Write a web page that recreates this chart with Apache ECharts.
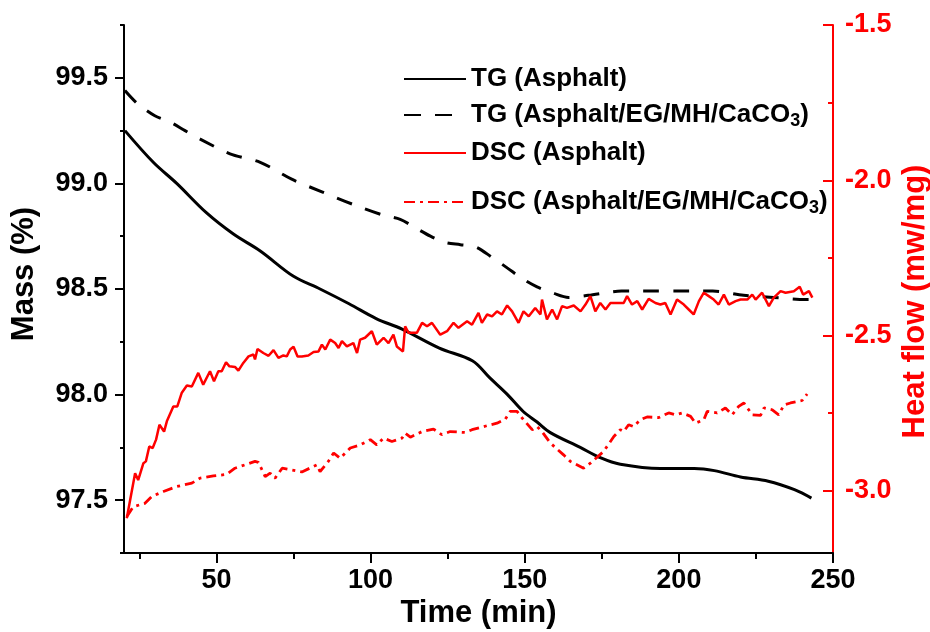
<!DOCTYPE html>
<html>
<head>
<meta charset="utf-8">
<script src="https://cdn.jsdelivr.net/npm/echarts@6/dist/echarts.min.js"></script>
<style>
  html, body { margin: 0; padding: 0; background: #fff; }
  #chart { width: 930px; height: 632px; }
</style>
</head>
<body>
<div id="chart"></div>
<script>
// Thermal analysis: TG mass loss (left axis) and DSC heat flow (right axis) over time
const seriesNames = [
  'TG (Asphalt)',
  'TG (Asphalt/EG/MH/CaCO3)',
  'DSC (Asphalt)',
  'DSC (Asphalt/EG/MH/CaCO3)'
];

// Tick labels
const timeTicks = [50, 100, 150, 200, 250];
const timeMinorTicks = [25, 75, 125, 175, 225];
const massTicks = [97.5, 98.0, 98.5, 99.0, 99.5];
const massMinorTicks = [97.25, 97.75, 98.25, 98.75, 99.25, 99.75];
const heatTicks = [-3.0, -2.5, -2.0, -1.5];
const heatMinorTicks = [-2.75, -2.25, -1.75];

// TG, asphalt
const tgTime = [20.3, 29.5, 37.1, 46.8, 55.5, 64.2, 75.0, 83.6, 93.0, 101.8, 110.2, 122.3, 133.0, 138.6, 144.4, 149.5, 154.0, 158.3, 168.0, 174.7, 181.0, 194.0, 205.0, 211.5, 220.0, 229.0, 237.5, 243.0];
const tgMass = [99.25, 99.10, 99.00, 98.86, 98.76, 98.68, 98.56, 98.50, 98.43, 98.36, 98.31, 98.22, 98.16, 98.08, 98.00, 97.92, 97.87, 97.82, 97.75, 97.70, 97.67, 97.65, 97.65, 97.64, 97.61, 97.59, 97.55, 97.51];

// TG, asphalt/EG/MH/CaCO3
const tgcTime = [20.3, 24.2, 30.0, 35.0, 39.8, 44.7, 54.4, 64.2, 74.4, 84.2, 94.4, 104.0, 109.6, 114.5, 119.4, 124.2, 129.1, 134.0, 139.4, 144.3, 149.1, 154.0, 159.3, 164.2, 170.6, 181.4, 191.4, 201.0, 211.0, 221.0, 230.7, 241.1, 243.3];
const tgcMass = [99.44, 99.38, 99.32, 99.29, 99.25, 99.21, 99.14, 99.10, 99.02, 98.96, 98.90, 98.85, 98.83, 98.79, 98.75, 98.72, 98.71, 98.70, 98.65, 98.60, 98.55, 98.51, 98.48, 98.46, 98.47, 98.49, 98.49, 98.49, 98.49, 98.47, 98.46, 98.45, 98.45];

// DSC, asphalt
const dscTime = [20.9,23.6,24.6,26.3,27.1,28.2,29.3,30.4,31.5,33.0,
  33.9,36.0,37.3,38.7,40.4,42.0,44.1,45.7,47.9,49.2,
  50.6,51.7,53.1,54.2,56.0,57.1,58.7,60.4,62.0,62.5,
  63.3,65.2,66.9,68.5,70.1,71.7,72.8,73.9,75.0,76.3,
  77.7,79.8,81.5,83.1,84.2,85.3,86.9,88.5,89.6,90.7,
  92.3,94.4,95.6,96.6,98.2,100.4,102.0,104.2,105.8,107.4,
  108.5,110.5,111.2,112.3,115.0,116.7,118.3,119.9,122.6,124.8,
  126.9,128.5,131.3,132.9,135.0,136.1,137.8,139.4,141.0,142.6,
  144.3,145.9,148.0,149.6,151.3,153.4,155.1,155.6,157.2,158.9,
  160.5,162.1,163.7,165.9,168.1,169.7,171.3,172.9,174.5,176.2,
  177.8,182.1,183.2,184.8,186.5,188.1,190.2,192.4,194.0,195.6,
  197.3,199.4,201.6,203.2,204.8,206.5,208.1,209.7,211.3,212.9,
  214.6,216.2,218.4,220.0,222.2,223.8,224.9,227.0,229.2,230.8,
  233.0,234.6,237.3,239.2,240.3,242.2,243.3];
const dscHeat = [-3.088,-2.943,-2.965,-2.911,-2.905,-2.857,-2.862,-2.835,-2.787,-2.809,
  -2.776,-2.728,-2.728,-2.685,-2.661,-2.664,-2.620,-2.658,-2.615,-2.647,
  -2.615,-2.615,-2.586,-2.599,-2.601,-2.613,-2.588,-2.567,-2.561,-2.577,
  -2.543,-2.556,-2.565,-2.547,-2.572,-2.564,-2.567,-2.545,-2.536,-2.567,
  -2.567,-2.564,-2.553,-2.551,-2.529,-2.545,-2.513,-2.524,-2.540,-2.518,
  -2.535,-2.524,-2.556,-2.513,-2.507,-2.486,-2.529,-2.507,-2.524,-2.497,
  -2.535,-2.551,-2.470,-2.491,-2.491,-2.459,-2.470,-2.459,-2.497,-2.486,
  -2.459,-2.475,-2.454,-2.465,-2.427,-2.459,-2.432,-2.438,-2.422,-2.432,
  -2.403,-2.422,-2.459,-2.422,-2.438,-2.411,-2.432,-2.384,-2.448,-2.416,
  -2.448,-2.405,-2.411,-2.403,-2.422,-2.400,-2.373,-2.422,-2.395,-2.416,
  -2.395,-2.395,-2.373,-2.400,-2.389,-2.416,-2.382,-2.395,-2.400,-2.395,
  -2.432,-2.384,-2.400,-2.416,-2.432,-2.389,-2.362,-2.373,-2.384,-2.400,
  -2.368,-2.400,-2.389,-2.384,-2.384,-2.368,-2.384,-2.362,-2.405,-2.378,
  -2.357,-2.362,-2.357,-2.343,-2.368,-2.357,-2.378];

// DSC, asphalt/EG/MH/CaCO3
const dsccTime = [20.9,23.0,26.8,29.0,32.8,37.1,42.0,44.7,49.0,53.3,
  56.0,62.5,63.6,65.8,67.4,69.0,71.3,73.9,77.7,82.6,
  83.6,86.3,88.0,90.1,93.4,96.6,99.9,102.0,104.2,106.9,
  110.2,111.2,112.9,116.7,120.4,123.1,125.8,130.7,132.9,137.8,
  141.0,143.7,145.3,147.5,149.6,152.4,154.0,155.6,158.3,162.6,
  164.8,169.1,171.3,175.6,178.9,181.0,182.1,183.7,185.3,187.5,
  189.7,193.5,196.7,198.9,201.1,203.8,205.4,208.1,209.2,212.4,
  215.1,217.3,219.4,221.1,223.8,226.5,227.6,230.3,232.4,234.1,
  236.2,240.0,241.6];
const dsccHeat = [-3.083,-3.051,-3.040,-3.018,-3.002,-2.986,-2.975,-2.959,-2.952,-2.947,
  -2.927,-2.905,-2.908,-2.954,-2.943,-2.959,-2.927,-2.932,-2.939,-2.916,
  -2.938,-2.905,-2.878,-2.895,-2.862,-2.852,-2.835,-2.852,-2.830,-2.841,
  -2.830,-2.814,-2.827,-2.809,-2.801,-2.819,-2.809,-2.812,-2.803,-2.790,
  -2.782,-2.769,-2.744,-2.744,-2.771,-2.803,-2.793,-2.809,-2.846,-2.884,
  -2.905,-2.927,-2.911,-2.873,-2.825,-2.803,-2.809,-2.787,-2.793,-2.771,
  -2.762,-2.764,-2.749,-2.755,-2.749,-2.760,-2.782,-2.771,-2.744,-2.749,
  -2.733,-2.755,-2.728,-2.717,-2.755,-2.757,-2.733,-2.739,-2.755,-2.723,
  -2.717,-2.709,-2.688];

const zip = (xs, ys) => xs.map((x, i) => [x, ys[i]]);

const FONT = '"Liberation Sans", Arial, Helvetica, sans-serif';
const RED = '#ff0000';
const BLACK = '#000000';

const tickLabel = (color) => ({
  color: color, fontFamily: FONT, fontSize: 27, fontWeight: 'bold'
});

const axisTitle = (color, padding) => ({
  color: color, fontFamily: FONT, fontSize: 31, fontWeight: 'bold', padding: padding
});

// Legend entries sit at uneven vertical spacing, so each gets its own legend block
const legendTops = [61, 97, 135, 184];
const legendText = (name) => {
  const m = name.match(/^(.*CaCO)3\)$/);
  if (m) return '{n|' + m[1] + '}{s|3}{n|)}';
  return '{n|' + name + '}';
};
const legendDash = [null, [17, 14], null, [11, 5, 3, 5]];

const legends = seriesNames.map((name, i) => ({
  data: [legendDash[i] ? { name: name, lineStyle: { type: legendDash[i] } } : name],
  left: 398,
  top: legendTops[i],
  orient: 'vertical',
  itemWidth: 62,
  itemHeight: 14,
  selectedMode: false,
  itemStyle: { opacity: 0 },
  formatter: legendText,
  textStyle: {
    color: BLACK,
    fontFamily: FONT,
    fontSize: 26,
    fontWeight: 'bold',
    rich: {
      n: { fontFamily: FONT, fontSize: 26, fontWeight: 'bold', lineHeight: 30, color: BLACK },
      s: { fontFamily: FONT, fontSize: 18, fontWeight: 'bold', lineHeight: 18, verticalAlign: 'bottom', color: BLACK }
    }
  }
}));

const chart = echarts.init(document.getElementById('chart'), null, { renderer: 'canvas' });

chart.setOption({
  animation: false,
  backgroundColor: '#ffffff',
  grid: { left: 124, right: 97, top: 25, bottom: 79, containLabel: false, outerBoundsMode: 'none' },
  legend: legends,
  xAxis: [
    {
      type: 'value', min: 20, max: 250, position: 'bottom',
      name: 'Time (min)', nameLocation: 'middle', nameGap: 45, nameMoveOverlap: false,
      nameTextStyle: axisTitle(BLACK, 0),
      axisLine: { show: true, onZero: false, lineStyle: { color: BLACK, width: 2 } },
      axisTick: { show: true, customValues: timeTicks, length: 10, lineStyle: { color: BLACK, width: 2 } },
      axisLabel: Object.assign({ customValues: timeTicks, margin: 14 }, tickLabel(BLACK)),
      splitLine: { show: false }
    },
    {
      type: 'value', min: 20, max: 250, position: 'bottom', offset: 0,
      axisLine: { show: false },
      axisTick: { show: true, customValues: timeMinorTicks, length: 6, lineStyle: { color: BLACK, width: 2 } },
      axisLabel: { show: false },
      splitLine: { show: false }
    }
  ],
  yAxis: [
    {
      type: 'value', min: 97.25, max: 99.75, position: 'left',
      name: 'Mass (%)', nameLocation: 'middle', nameGap: 84, nameRotate: 90, nameMoveOverlap: false,
      nameTextStyle: axisTitle(BLACK, [0, 0, 0, 30]),
      axisLine: { show: true, onZero: false, lineStyle: { color: BLACK, width: 2 } },
      axisTick: { show: true, customValues: massTicks, length: 9, lineStyle: { color: BLACK, width: 2 } },
      axisLabel: Object.assign({ customValues: massTicks, margin: 16, formatter: (v) => v.toFixed(1) }, tickLabel(BLACK)),
      splitLine: { show: false }
    },
    {
      type: 'value', min: -3.2, max: -1.5, position: 'right',
      name: 'Heat flow (mw/mg)', nameLocation: 'middle', nameGap: 67, nameRotate: 90, nameMoveOverlap: false,
      nameTextStyle: axisTitle(RED, [0, 25, 0, 0]),
      axisLine: { show: true, onZero: false, lineStyle: { color: RED, width: 2 } },
      axisTick: { show: true, inside: true, customValues: heatTicks, length: 10, lineStyle: { color: RED, width: 2 } },
      axisLabel: Object.assign({ customValues: heatTicks, margin: 12, formatter: (v) => v.toFixed(1) }, tickLabel(RED)),
      splitLine: { show: false }
    },
    {
      type: 'value', min: 97.25, max: 99.75, position: 'left', offset: 0,
      axisLine: { show: false },
      axisTick: { show: true, customValues: massMinorTicks, length: 4, lineStyle: { color: BLACK, width: 2 } },
      axisLabel: { show: false },
      splitLine: { show: false }
    },
    {
      type: 'value', min: -3.2, max: -1.5, position: 'right', offset: 0,
      axisLine: { show: false },
      axisTick: { show: true, inside: true, customValues: heatMinorTicks, length: 5, lineStyle: { color: RED, width: 2 } },
      axisLabel: { show: false },
      splitLine: { show: false }
    }
  ],
  series: [
    {
      name: seriesNames[0], type: 'line', xAxisIndex: 0, yAxisIndex: 0,
      data: zip(tgTime, tgMass), symbol: 'none', showSymbol: false, smooth: 0.35,
      lineStyle: { color: BLACK, width: 3 }, itemStyle: { color: BLACK }
    },
    {
      name: seriesNames[1], type: 'line', xAxisIndex: 0, yAxisIndex: 0,
      data: zip(tgcTime, tgcMass), symbol: 'none', showSymbol: false, smooth: 0.3,
      lineStyle: { color: BLACK, width: 3, type: [16, 14] }, itemStyle: { color: BLACK }
    },
    {
      name: seriesNames[2], type: 'line', xAxisIndex: 0, yAxisIndex: 1,
      data: zip(dscTime, dscHeat), symbol: 'none', showSymbol: false,
      lineStyle: { color: RED, width: 2.5 }, itemStyle: { color: RED }
    },
    {
      name: seriesNames[3], type: 'line', xAxisIndex: 0, yAxisIndex: 1,
      data: zip(dsccTime, dsccHeat), symbol: 'none', showSymbol: false,
      lineStyle: { color: RED, width: 2.8, type: [10, 5, 3, 5] }, itemStyle: { color: RED }
    }
  ]
});
</script>
</body>
</html>
